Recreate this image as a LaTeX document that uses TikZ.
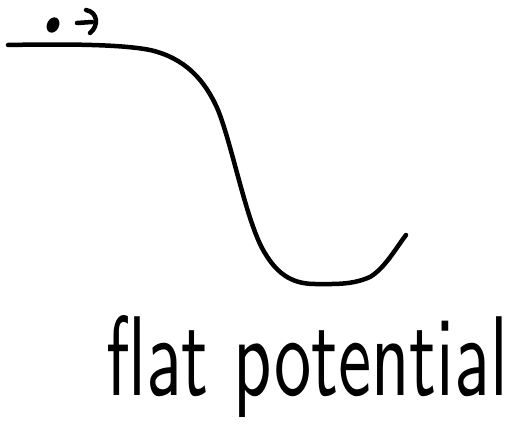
\documentclass[tikz,border=0pt]{standalone}
\usepackage{graphicx}
\begin{document}
\begin{tikzpicture}[x=1pt,y=-1pt,
  stroke/.style={line width=4.5pt,line cap=round,line join=round}]
\useasboundingbox (0,0) rectangle (515,428);
% potential curve
\draw[stroke] (8,45) .. controls (60,44) and (120,44) .. (150,50)
  .. controls (185,58) and (205,80) .. (218,110)
  .. controls (232,145) and (245,215) .. (262,248)
  .. controls (275,272) and (290,284) .. (315,284)
  .. controls (335,284) and (352,285) .. (370,277)
  .. controls (385,268) and (396,248) .. (406,235);
% particle and arrow
\fill[rotate around={-25:(53,25)}] (53,25) ellipse (6pt and 8pt);
\draw[stroke] (77,23) -- (92,22);
\draw[stroke] (86,10) .. controls (98,12) and (99,26) .. (90,33);
% label
\node[anchor=base west,inner sep=0pt] (label) at (106,395)
  {\resizebox{402pt}{80pt}{\sffamily flat potential}};
\end{tikzpicture}
\end{document}
